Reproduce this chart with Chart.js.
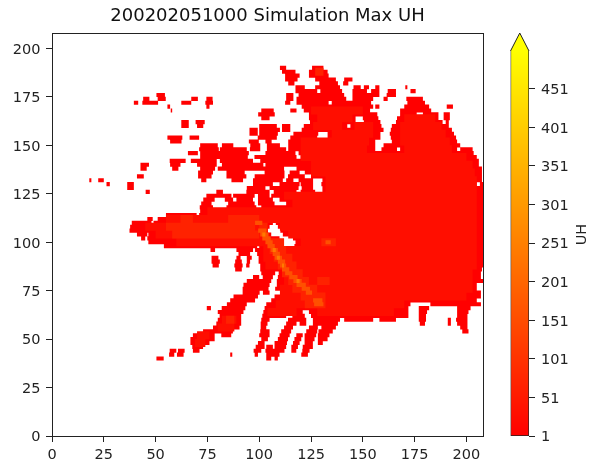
<!DOCTYPE html>
<html>
<head>
<meta charset="utf-8">
<title>Simulation Max UH</title>
<script src="https://cdn.jsdelivr.net/npm/chart.js@4/dist/chart.umd.min.js"></script>
<style>
  body { margin: 0; background: #fff; }
  canvas { position: absolute; top: 0; }
  #field { left: 0; }
  #colorbar { left: 495px; }
</style>
</head>
<body>
<canvas id="field" width="495" height="463"></canvas>
<canvas id="colorbar" width="94" height="463"></canvas>
<script>
const chartTitle = '200202051000 Simulation Max UH';
const colorLabel = 'UH';
const gridSize = 208;
const axisStep = 25;
const colorTicks = [1, 51, 101, 151, 201, 251, 301, 351, 401, 451];
const colorRange = [1, 500];

// footprint of the storm, [start, end, start, end, ...] on each row
const baseRows = [190,188,186,184,182,180,178,176,174,172,170,168,166,164,162,160,158,156,154,152,150,148,146,144,142,140,138,136,134,132,130,128,126,124,122,120,118,116,114,112,110,108,106,104,102,100,98,96,94,92,90,88,86,84,82,80,78,76,74,72,70,68,66,64,62,60,58,56,54,52,50,48,46,44,42,40];
const baseSpans = [
  [110,113, 125.5,131],
  [111,117.5, 124,133],
  [112.5,119.5, 124,133.5],
  [112.5,118.5, 127,137, 141,145],
  [114,117, 129,138, 140.5,143],
  [117.5,122, 127,139, 145.5,149, 150.5,153, 156,158, 170.5,171.5],
  [117.5,128, 129.5,140, 145,152, 154,158, 162,166, 173,175.5],
  [50.4,54.5, 113,116.5, 119,141, 145,158, 161.5,166],
  [44,47, 51,54.9, 67.2,70.4, 74.5,77.5, 113,116.5, 118,142, 145,155, 160,162, 171,179],
  [39.5,41.6, 43.6,51.2, 62.4,67.2, 74,77.7, 112.5,115, 118,133.5, 135,154, 171.5,180],
  [55.7,57, 74.5,76, 120.5,155, 156,158, 170,182, 190.5,193.5],
  [57.3,58, 101,107, 115,118, 121.5,153.5, 168,183],
  [99.5,107.5, 124,157, 168,176, 179,186.5, 189,192],
  [101,105, 124,146.5, 150,157.5, 166.5,176, 179,186.5, 189,192],
  [62.4,66, 69.3,73.7, 124.5,146.5, 150.5,158.5, 166,188.5, 190,191.5],
  [62.4,66, 70,73, 100,108.5, 111,115, 121.5,142.5, 144,159, 164,191.5],
  [95.3,99.3, 100,110, 111,115, 120.5,160, 163.5,193],
  [95.3,99.3, 100,109, 116.5,128.5, 133,158.5, 163,194],
  [55.7,62.9, 66.4,71, 99.3,108.5, 115,128, 133,158.5, 163.5,195],
  [57,62.5, 95,99.8, 103,106, 114,156, 164,195.5],
  [71.5,80, 82,87.5, 95.7,100.5, 103.7,110, 114,156, 160,197],
  [71,80.5, 81,94, 95.5,100.5, 103.7,113, 114,156, 159,166.5, 168,195.5, 197,203],
  [65.6,70.4, 71.5,95, 103,117.5, 119,203.5],
  [71.5,94.5, 97.7,118, 120,205],
  [56.8,64.5, 67,79.5, 81,97, 100.5,206],
  [42.7,46.8, 57,62, 70,79.5, 82,102, 103,206],
  [42.7,45.7, 58,61, 71.5,78.7, 80,112, 118,207.5],
  [70.5,77.7, 84.2,93, 102.6,112.2, 114.7,119.5, 122,207.5],
  [41,44.3, 70.5,77, 84.2,93.8, 97.8,112.2, 113.9,122, 125,207.5],
  [18,19, 22.3,25, 72,74.5, 86.6,92.2, 97,111.4, 113,116.5, 119,126, 130.5,207.5],
  [26.3,27.9, 36.3,39.5, 97,106.6, 109.8,119.5, 120,126, 130,205, 206.5,208],
  [36.3,39.5, 94,103, 105,119, 120.5,126, 130.5,208],
  [45.2,47.2, 79.3,82.5, 93.8,105, 107,118, 120,127, 130.5,208],
  [74.5,86.6, 87.4,97.8, 99.4,105, 105.8,208],
  [73,78.5, 83.4,87.4, 89,97, 99.4,106.6, 109.8,208],
  [72,77, 85,97.8, 99.4,107.4, 113,208],
  [71.3,77.7, 84.2,98.6, 101,208],
  [71.5,79.3, 80,139, 141,208],
  [55,69.8, 71,208],
  [46,48.6, 51,106.6, 108.5,208],
  [38.5,48, 49,106.6, 108,208],
  [37.7,105, 109,208],
  [37.4,104.2, 110.2,208],
  [41,46, 46.5,105.8, 111.4,208],
  [43,45, 46,109.8, 116.3,179.5, 182,208],
  [46.5,108, 117.5,208],
  [54,99, 100,110, 117,208],
  [76.5,78.7, 89,97, 98,208],
  [90,95.6, 99,208],
  [77,80.3, 89,91, 94,96.4, 99.7,208],
  [77,81, 88.4,91.6, 94,95.6, 99.7,116.5, 119,208],
  [77.5,80.5, 88,92, 93.7,95.3, 100.5,117.5, 120.5,208],
  [88.4,91.6, 100.5,119, 121,207.5],
  [101,107.7, 109.4,207],
  [97,100, 101.7,106.6, 109,176, 178.6,207],
  [94,105.8, 108.5,208],
  [92.4,105, 108.5,127, 128,205],
  [92,104.5, 107.7,205],
  [92,100.2, 101.8,105, 113,207],
  [87.6,99.4, 107.4,207],
  [86,98, 105.8,205],
  [84.4,94, 103.4,173, 182.6,207],
  [74.7,76.7, 81.9,93.3, 102.6,172, 177,182, 195.5,202],
  [80,92.4, 102,121, 124,172, 177,181, 195.5,201],
  [80.9,91.3, 101.5,113, 116,122, 125,172, 177,180.5, 195.5,200.5],
  [80,91.3, 101,105, 113.9,122.7, 125.9,139, 141,155, 158,166, 177,180.5, 191,192.5, 195,200.5],
  [79.3,91.3, 100.7,104, 113,118, 119.5,122.7, 125.9,138, 177.5,180, 191,192.5, 195.5,200.5],
  [77.7,90.5, 100.7,103.4, 112,116.3, 124,128.3, 130,137, 197,200.5],
  [72.9,87.3, 100.5,105, 110.6,115.4, 122.7,128, 128.6,135.5, 198,201],
  [68,78.5, 81.7,86.5, 100,105, 109.8,114.7, 117.9,121, 121.9,127.5, 128.3,133.9],
  [66.8,78.5, 101,104.2, 109,113.9, 117,120.3, 121.9,126.7, 128.3,133],
  [66.8,76, 99.4,102.6, 107.4,113.4, 116.3,119.5, 121.9,125.9, 128.3,130.7],
  [67.7,72.9, 98.3,102.6, 103.4,106.6, 107.4,113, 115.5,118.7, 121,125.9],
  [56.8,60, 60.8,64, 68,71.2, 97.3,101, 103,112.2, 115.5,117.9, 120.8,124.3],
  [56.5,59, 60.3,63.5, 86,87, 97.8,99.4, 103.4,109.8, 120.3,123.5],
  [50.4,53.9, 103.4,105.8, 107.4,109]
];

// slightly stronger values inside the footprint
const warmRows = [168,164,160,156,152,148,144,140,136,132,128,124,120,116,112,108,104,100,96,92,88,84,80,76,72,68,64,60,56,52,48];
const warmSpans = [
  [125,150],
  [128,145, 170,185],
  [126,140, 146,155, 168,188],
  [135,155, 168,190],
  [120,153, 168,192],
  [120,152, 170,193],
  [120,200],
  [125,203],
  [125,204],
  [132,205],
  [132,205],
  [112,205],
  [116,205],
  [75,205],
  [55,205],
  [45,104, 110,205],
  [50,104, 114,205],
  [60,105, 120,205],
  [102,205],
  [102,205],
  [103,205],
  [112,203],
  [112,203],
  [110,203],
  [110,200],
  [108,170],
  [104,118, 128,165],
  [82,89],
  [80,88],
  [70,76],
  [69,74]
];

const midRows = [188,112,108,104,100,96,92,88,84,80,76,72,68,60];
const midSpans = [
  [127,131],
  [62,68, 85,100],
  [55,98, 100,104],
  [58,100],
  [104,112, 130,137],
  [105,113],
  [107,116],
  [109,118],
  [111,121],
  [114,124, 128,134],
  [116,128],
  [120,132],
  [122,132],
  [84,88]
];

// the orange streak running from the centre to the south east
const hotRows = [110,106,104,102,100,98,96,94,92,90,88,86,84,82,80,78,76,74,70,68];
const hotSpans = [
  [98,101.5],
  [99.5,103.5],
  [100.5,104.5],
  [101.5,105.5],
  [103,106.5, 132,134.5],
  [104,107.5],
  [105.5,109],
  [106.5,110],
  [107.5,111],
  [109,112.5],
  [110,113],
  [111,114.5],
  [112.5,116],
  [114.5,118.5],
  [116.5,120.5],
  [118,122.5],
  [120.5,124.5],
  [122.5,125.5],
  [126,130.5],
  [126.5,131]
];

const coreRows = [104,96,92,88,80];
const coreSpans = [
  [101.5,103],
  [106.5,108],
  [108.5,110],
  [111,112],
  [118,119.5]
];

function toPoints(rows, spans) {
  const pts = [];
  rows.forEach((y, i) => {
    const s = spans[i];
    for (let k = 0; k < s.length; k += 2) {
      pts.push({ x: s[k], y }, { x: s[k + 1], y }, { x: null, y: null });
    }
  });
  return pts;
}

function layer(rows, spans, color, width, order) {
  return {
    data: toPoints(rows, spans),
    showLine: true,
    spanGaps: false,
    borderColor: color,
    borderWidth: width,
    borderCapStyle: 'butt',
    pointRadius: 0,
    pointHoverRadius: 0,
    order
  };
}

Chart.defaults.font.family = '"DejaVu Sans", sans-serif';
Chart.defaults.color = '#222';
Chart.defaults.animation = false;

const inkColor = '#222';

new Chart(document.getElementById('field'), {
  type: 'scatter',
  data: {
    datasets: [
      layer(coreRows, coreSpans, '#ff7a00', 4.2, 1),
      layer(hotRows, hotSpans, '#ff5000', 4.2, 2),
      layer(midRows, midSpans, '#ff2200', 8, 3),
      layer(warmRows, warmSpans, '#ff0e00', 8, 4),
      layer(baseRows, baseSpans, '#ff0000', 4.2, 5)
    ]
  },
  options: {
    responsive: false,
    layout: { padding: { right: 11 } },
    plugins: { legend: { display: false }, tooltip: { enabled: false } },
    scales: {
      x: {
        type: 'linear', min: 0, max: gridSize,
        ticks: { stepSize: axisStep, includeBounds: false, maxRotation: 0, font: { size: 14.5 }, padding: 5 },
        grid: { drawOnChartArea: false, tickLength: 6, tickColor: inkColor },
        border: { color: inkColor },
        afterFit: s => { s.height = 27; }
      },
      y: {
        type: 'linear', min: 0, max: gridSize,
        ticks: { stepSize: axisStep, includeBounds: false, font: { size: 14.5 }, padding: 5.5, labelOffset: 1.5 },
        grid: { drawOnChartArea: false, tickLength: 6, tickColor: inkColor },
        border: { color: inkColor },
        afterFit: s => { s.width = 52; }
      },
      top: {
        type: 'linear', position: 'top', min: 0, max: gridSize,
        ticks: { display: false },
        grid: { display: false },
        border: { display: true, color: inkColor },
        title: { display: true, text: chartTitle, color: '#111', font: { size: 18 }, padding: { top: 6, bottom: 0 } },
        afterFit: s => { s.height = 33; }
      },
      right: {
        type: 'linear', position: 'right', min: 0, max: gridSize,
        ticks: { display: false },
        grid: { display: false },
        border: { display: true, color: inkColor },
        afterFit: s => { s.width = 1; }
      }
    }
  }
});

// over-range arrow on top of the bar and the upright axis label
const colorbarExtras = {
  id: 'colorbarExtras',
  afterDraw(chart) {
    const { ctx, chartArea: a, scales } = chart;
    const y = scales.y.getPixelForValue(colorRange[1]);
    ctx.save();
    ctx.beginPath();
    ctx.moveTo(a.left, y);
    ctx.lineTo((a.left + a.right) / 2, y - 18);
    ctx.lineTo(a.right, y);
    ctx.fillStyle = '#ffff00';
    ctx.fill();
    ctx.strokeStyle = inkColor;
    ctx.lineWidth = 1;
    ctx.stroke();
    ctx.translate(87, (y - 18 + a.bottom) / 2);
    ctx.rotate(-Math.PI / 2);
    ctx.fillStyle = '#222';
    ctx.font = '14.5px "DejaVu Sans"';
    ctx.textAlign = 'center';
    ctx.textBaseline = 'middle';
    ctx.fillText(colorLabel, 0, 0);
    ctx.restore();
  }
};

new Chart(document.getElementById('colorbar'), {
  type: 'bar',
  data: {
    labels: [colorLabel],
    datasets: [{
      data: [colorRange],
      backgroundColor: c => {
        const a = c.chart.chartArea;
        if (!a) return '#ff0000';
        const g = c.chart.ctx.createLinearGradient(0, a.bottom, 0, a.top);
        g.addColorStop(0, '#ff0000');
        g.addColorStop(1, '#ffff00');
        return g;
      },
      borderColor: inkColor,
      borderWidth: 1,
      borderSkipped: 'top',
      barPercentage: 1,
      categoryPercentage: 1
    }]
  },
  options: {
    responsive: false,
    layout: { padding: { left: 15.5, top: 51, bottom: 27 } },
    plugins: { legend: { display: false }, tooltip: { enabled: false } },
    scales: {
      x: { display: false },
      y: {
        position: 'right',
        min: colorRange[0], max: colorRange[1],
        afterBuildTicks: s => { s.ticks = colorTicks.map(value => ({ value })); },
        ticks: { font: { size: 14.5 }, padding: 6, labelOffset: 1.5 },
        grid: { drawOnChartArea: false, tickLength: 6, tickColor: inkColor },
        border: { display: false },
        afterFit: s => { s.width = 60; }
      }
    }
  },
  plugins: [colorbarExtras]
});
</script>
</body>
</html>
